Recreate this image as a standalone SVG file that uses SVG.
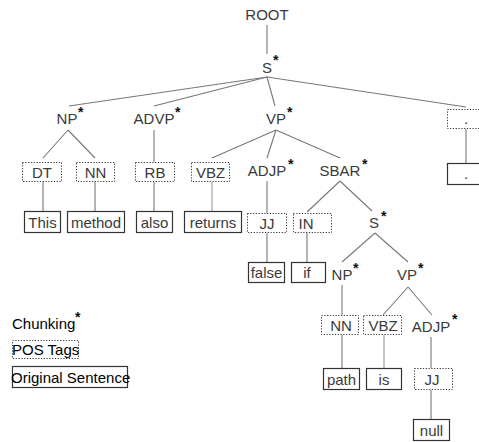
<svg xmlns="http://www.w3.org/2000/svg" width="479" height="442" viewBox="0 0 479 442">
<style>
text{font-family:"Liberation Sans",Arial,sans-serif;font-size:15px;fill:#3a3a3a;text-anchor:middle}
.st{font-size:14px;fill:#111;text-anchor:start;font-weight:bold}
.lg{fill:#000;text-anchor:start}
.pos{fill:#fff;stroke:#333;stroke-width:1;stroke-dasharray:1.2 1.6}
.wd{fill:#fff;stroke:#333;stroke-width:1.2}
#connectors line{stroke:#777;stroke-width:1.1}
</style>
<rect width="479" height="442" fill="#fff"/>
<g id="connectors">
<line x1="267" y1="25" x2="267" y2="54"/>
<line x1="267" y1="77" x2="69" y2="106"/>
<line x1="267" y1="77" x2="154" y2="106"/>
<line x1="267" y1="77" x2="275" y2="106"/>
<line x1="267" y1="77" x2="466" y2="107"/>
<line x1="68" y1="130" x2="43" y2="158"/>
<line x1="68" y1="130" x2="95" y2="158"/>
<line x1="154" y1="130" x2="154" y2="162"/>
<line x1="276" y1="130" x2="212" y2="158"/>
<line x1="276" y1="130" x2="267" y2="158"/>
<line x1="276" y1="130" x2="340" y2="158"/>
<line x1="466" y1="129" x2="466" y2="163"/>
<line x1="43" y1="182" x2="43" y2="211"/>
<line x1="95" y1="182" x2="95" y2="211"/>
<line x1="154" y1="182" x2="154" y2="211"/>
<line x1="212" y1="182" x2="212" y2="211" style="stroke:#999"/>
<line x1="267" y1="181" x2="267" y2="213"/>
<line x1="340" y1="181" x2="307" y2="212"/>
<line x1="340" y1="181" x2="372" y2="211"/>
<line x1="267" y1="233" x2="267" y2="262"/>
<line x1="307" y1="233" x2="307" y2="262"/>
<line x1="375" y1="233" x2="342" y2="262"/>
<line x1="375" y1="233" x2="408" y2="262"/>
<line x1="342" y1="285" x2="342" y2="315"/>
<line x1="408" y1="287" x2="383" y2="315"/>
<line x1="408" y1="287" x2="432" y2="315"/>
<line x1="342" y1="335" x2="342" y2="368"/>
<line x1="384" y1="335" x2="384" y2="368" style="stroke:#999"/>
<line x1="431" y1="337" x2="431" y2="368"/>
<line x1="431" y1="390" x2="431" y2="419"/>
</g>
<g id="root"><text x="267" y="20">ROOT</text></g>
<g id="s1"><text x="267" y="73">S</text><text class="st" x="273" y="65">*</text></g>
<g id="np1"><text x="67" y="124">NP</text><text class="st" x="78" y="117">*</text></g>
<g id="advp1"><text x="154" y="124">ADVP</text><text class="st" x="175" y="117">*</text></g>
<g id="vp1"><text x="276" y="124">VP</text><text class="st" x="287" y="117">*</text></g>
<g id="pos-period"><rect class="pos" x="447.5" y="109.5" width="40" height="19"/><text x="466" y="124">.</text></g>
<g id="pos-dt"><rect class="pos" x="22.5" y="162.5" width="39" height="19"/><text x="42" y="178">DT</text></g>
<g id="pos-nn1"><rect class="pos" x="76.5" y="162.5" width="38" height="19"/><text x="95.5" y="178">NN</text></g>
<g id="pos-rb"><rect class="pos" x="135.5" y="162.5" width="39" height="19"/><text x="155" y="178">RB</text></g>
<g id="pos-vbz1"><rect class="pos" x="191.5" y="162.5" width="38" height="19"/><text x="210.5" y="178">VBZ</text></g>
<g id="adjp1"><text x="267" y="176">ADJP</text><text class="st" x="288" y="169">*</text></g>
<g id="sbar"><text x="340" y="176">SBAR</text><text class="st" x="362" y="169">*</text></g>
<g id="w-period"><rect class="wd" x="447.5" y="163.5" width="40" height="21"/><text x="466" y="179">.</text></g>
<g id="w-this"><rect class="wd" x="24.5" y="211.5" width="36" height="21"/><text x="42.5" y="228">This</text></g>
<g id="w-method"><rect class="wd" x="67.5" y="211.5" width="57" height="21"/><text x="96" y="228">method</text></g>
<g id="w-also"><rect class="wd" x="136.5" y="211.5" width="36" height="21"/><text x="154.5" y="228">also</text></g>
<g id="w-returns"><rect class="wd" x="184.5" y="211.5" width="57" height="21"/><text x="213" y="228">returns</text></g>
<g id="pos-jj1"><rect class="pos" x="247.5" y="213.5" width="39" height="19"/><text x="267" y="229">JJ</text></g>
<g id="pos-in"><rect class="pos" x="293.5" y="213.5" width="38" height="19"/><text x="306" y="229">IN</text></g>
<g id="s2"><text x="374" y="228">S</text><text class="st" x="381" y="221">*</text></g>
<g id="w-false"><rect class="wd" x="248.5" y="262.5" width="36" height="20"/><text x="266.5" y="278">false</text></g>
<g id="w-if"><rect class="wd" x="291.5" y="262.5" width="34" height="20"/><text x="307" y="278">if</text></g>
<g id="np2"><text x="342" y="280">NP</text><text class="st" x="353" y="273">*</text></g>
<g id="vp2"><text x="407" y="280">VP</text><text class="st" x="418" y="273">*</text></g>
<g id="pos-nn2"><rect class="pos" x="321.5" y="315.5" width="37" height="19"/><text x="341" y="331">NN</text></g>
<g id="pos-vbz2"><rect class="pos" x="363.5" y="315.5" width="38" height="19"/><text x="383" y="331">VBZ</text></g>
<g id="adjp2"><text x="431" y="332">ADJP</text><text class="st" x="452" y="324">*</text></g>
<g id="w-path"><rect class="wd" x="323.5" y="368.5" width="36" height="21"/><text x="341.5" y="385">path</text></g>
<g id="w-is"><rect class="wd" x="366.5" y="368.5" width="35" height="21"/><text x="384" y="385">is</text></g>
<g id="pos-jj2"><rect class="pos" x="414.5" y="368.5" width="38" height="21"/><text x="432" y="385">JJ</text></g>
<g id="w-null"><rect class="wd" x="413.5" y="419.5" width="36" height="21"/><text x="431.5" y="436">null</text></g>
<g id="legend">
<text class="lg" x="12" y="329">Chunking</text><text class="st" x="75" y="322">*</text>
<rect class="pos" x="12.5" y="340.5" width="66" height="18"/><text class="lg" x="12" y="355">POS Tags</text>
<rect class="wd" x="12.5" y="366.5" width="115" height="21"/><text class="lg" x="11" y="383">Original Sentence</text>
</g>
</svg>
